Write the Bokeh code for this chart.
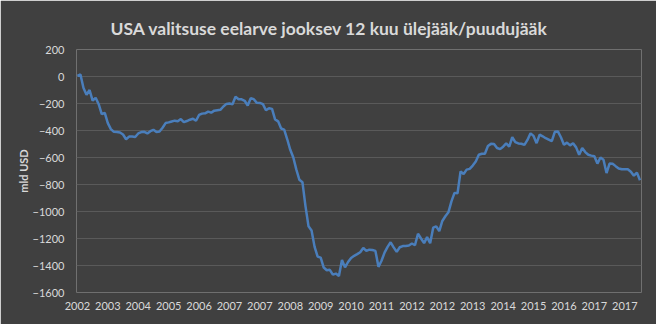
from bokeh.plotting import figure
from bokeh.models import Range1d, FixedTicker, ColumnDataSource
from bokeh.embed import file_html
from bokeh.resources import INLINE

title_text = "USA valitsuse eelarve jooksev 12 kuu ülejääk/puudujääk"
y_label = "mld USD"

# monthly running 12-month balance, bn USD
balance = [
    5, 15, -85, -135, -100, -178, -158, -205, -278, -270,
    -345, -390, -410, -411, -415, -430, -465, -445, -445, -448,
    -422, -412, -410, -422, -405, -395, -412, -407, -380, -345,
    -340, -333, -327, -331, -315, -338, -330, -320, -313, -328,
    -285, -275, -273, -260, -268, -253, -250, -247, -222, -203,
    -200, -205, -150, -168, -169, -180, -215, -161, -168, -195,
    -196, -205, -250, -235, -240, -318, -332, -385, -393, -465,
    -543, -600, -690, -765, -783, -960, -1110, -1140, -1262, -1334,
    -1342, -1415, -1435, -1432, -1468, -1460, -1477, -1360, -1414, -1374,
    -1344, -1328, -1316, -1302, -1270, -1292, -1283, -1285, -1292, -1410,
    -1365, -1305, -1262, -1228, -1266, -1299, -1265, -1256, -1255, -1252,
    -1237, -1250, -1165, -1200, -1234, -1190, -1235, -1120, -1110, -1145,
    -1070, -1035, -1006, -925, -862, -865, -704, -722, -690, -684,
    -660, -630, -580, -572, -572, -515, -499, -500, -530, -538,
    -520, -496, -519, -450, -486, -496, -498, -506, -470, -421,
    -440, -494, -430, -443, -457, -468, -479, -410, -407, -450,
    -505, -490, -510, -495, -525, -580, -530, -560, -580, -586,
    -591, -645, -600, -616, -715, -645, -646, -664, -681, -687,
    -687, -687, -705, -735, -712, -768,
]
month_index = list(range(len(balance)))

tick_labels = ["2002", "2003", "2004", "2005", "2006", "2007", "2007", "2008",
               "2009", "2010", "2011", "2012", "2012", "2013", "2014", "2015",
               "2016", "2017", "2017"]
tick_positions = [10 * k for k in range(len(tick_labels))]
y_ticks = list(range(-1600, 201, 200))

bg = "#404040"
txt = "#d9d9d9"

p = figure(width=656, height=324, output_backend="svg", toolbar_location=None,
           x_range=Range1d(-0.3, 185.5), y_range=Range1d(-1600, 200),
           min_border_left=76, min_border_right=15, min_border_top=49,
           min_border_bottom=32)
p.background_fill_color = bg
p.border_fill_color = bg
p.outline_line_color = None

p.title.text = title_text
p.title.align = "left"
p.title.offset = 34
p.title.text_color = txt
p.title.text_font = "Lato"
p.title.text_font_size = "17.5px"
p.title.text_font_style = "bold"
p.title.standoff = 21

src = ColumnDataSource(dict(x=month_index, y=balance))
p.line("x", "y", source=src, line_color="#4a7ebb", line_width=2.5)

p.xaxis.ticker = FixedTicker(ticks=tick_positions)
p.xaxis.major_label_overrides = {t: l for t, l in zip(tick_positions, tick_labels)}
p.yaxis.ticker = FixedTicker(ticks=y_ticks)
p.ygrid.ticker = FixedTicker(ticks=y_ticks)
p.xgrid.grid_line_color = None
p.ygrid.grid_line_color = "#5a5a5a"
p.ygrid.grid_line_width = 1

for ax in (p.xaxis[0], p.yaxis[0]):
    ax.axis_line_color = None
    ax.major_tick_line_color = None
    ax.minor_tick_line_color = None
    ax.major_tick_in = 0
    ax.major_tick_out = 0
    ax.minor_tick_in = 0
    ax.minor_tick_out = 0
    ax.major_label_text_color = txt
    ax.major_label_text_font = "Lato"
    ax.major_label_text_font_size = "11px"

p.xaxis.major_label_standoff = 9
p.yaxis.major_label_standoff = 12
p.yaxis.axis_label = y_label
p.yaxis.axis_label_text_color = txt
p.yaxis.axis_label_text_font = "Lato"
p.yaxis.axis_label_text_font_size = "11px"
p.yaxis.axis_label_text_font_style = "bold"
p.yaxis.axis_label_standoff = 0

open("out.html", "w").write(file_html(p, INLINE))
